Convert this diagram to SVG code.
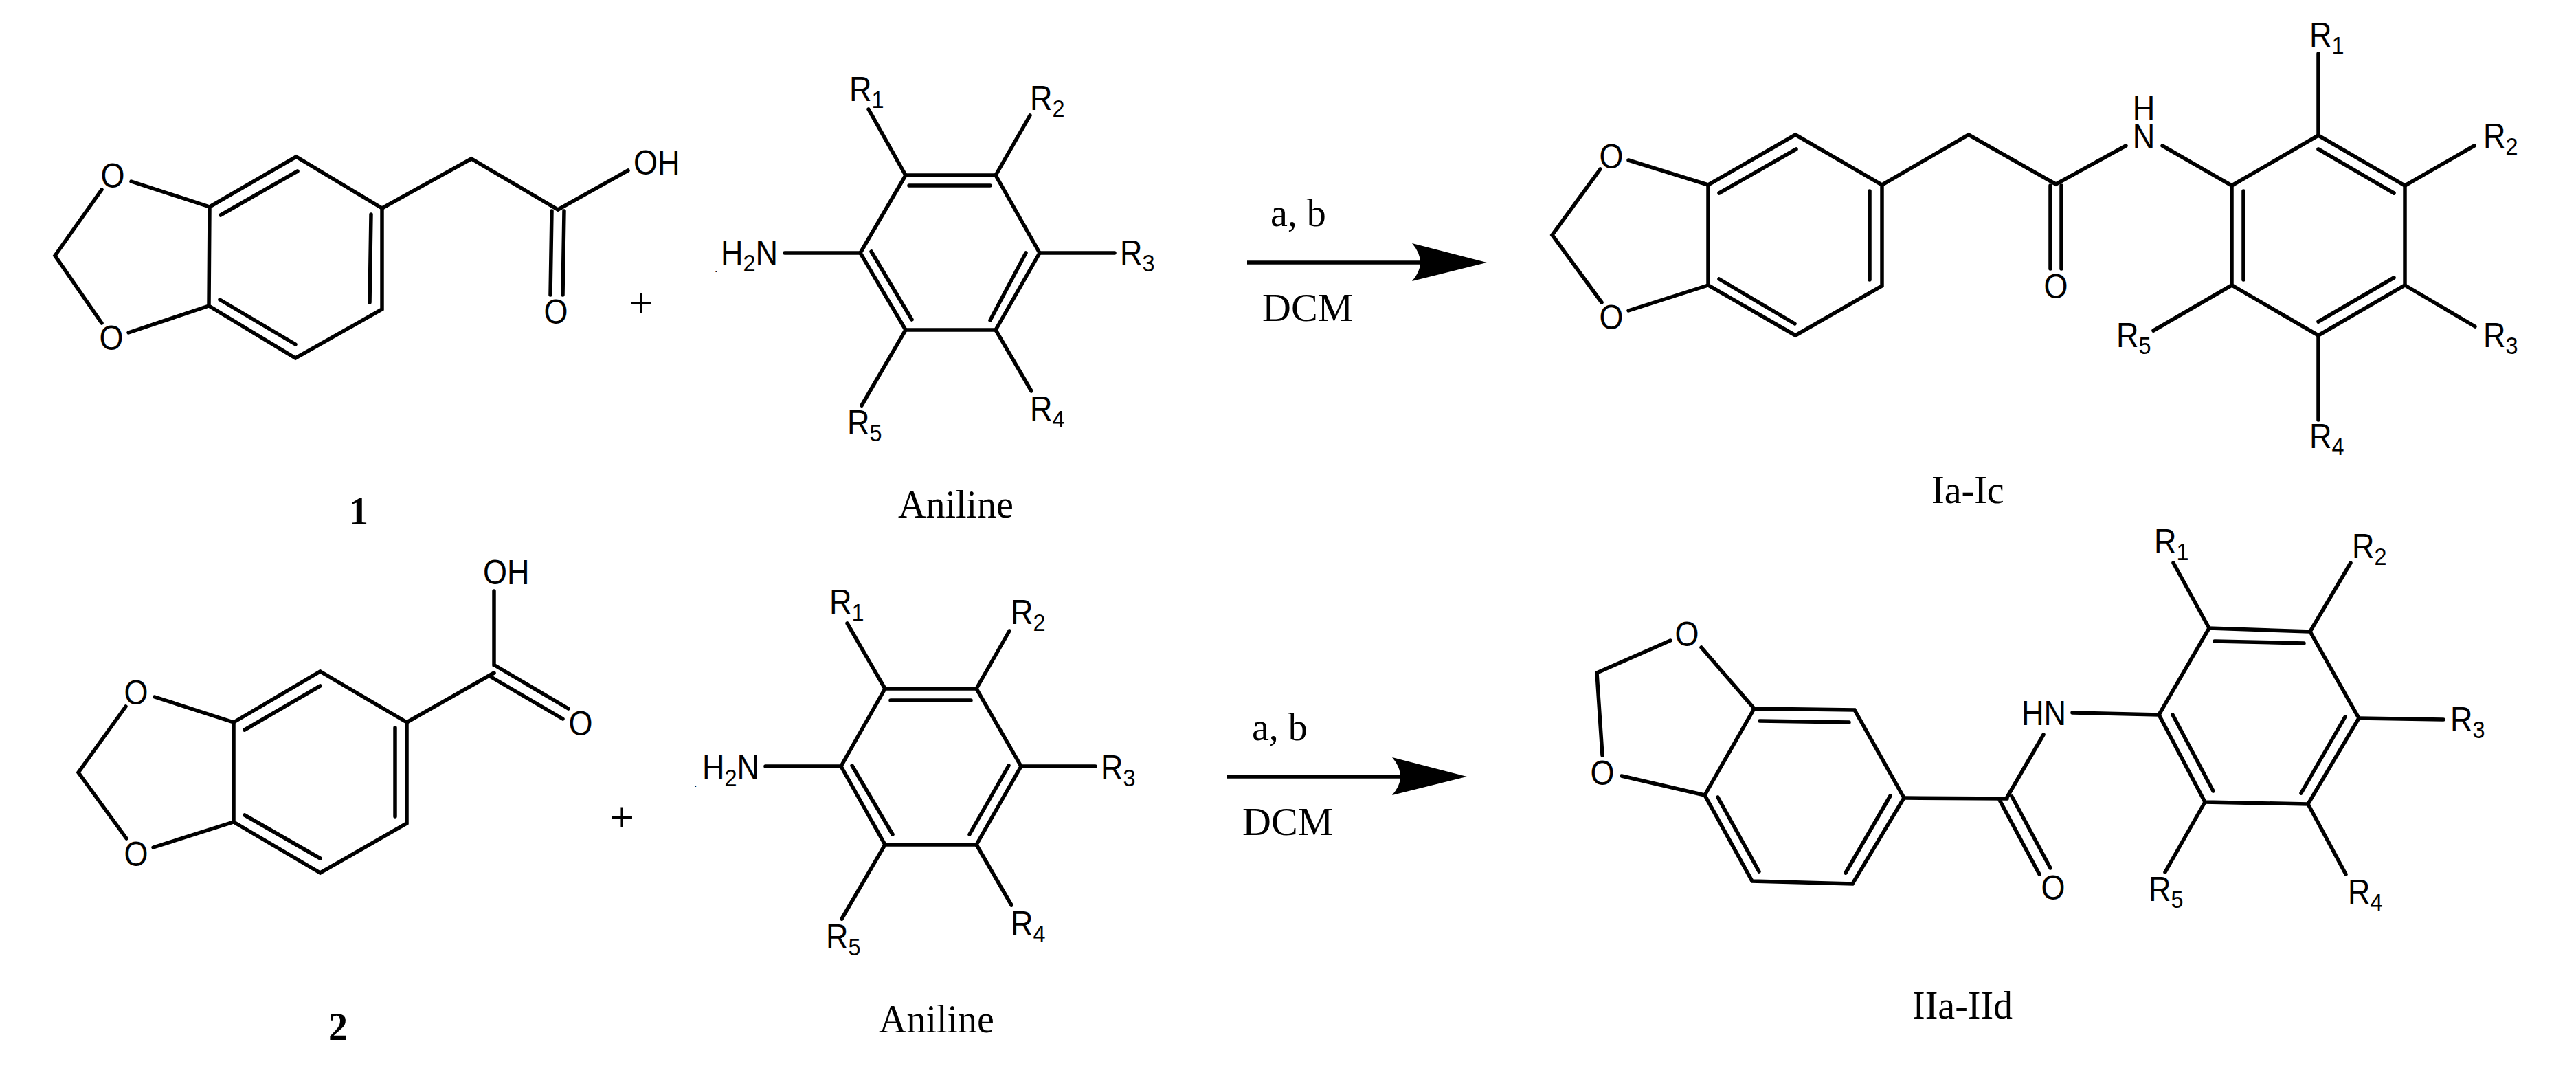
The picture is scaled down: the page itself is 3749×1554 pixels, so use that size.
<svg xmlns="http://www.w3.org/2000/svg" width="3749" height="1554" viewBox="0 0 3749 1554">
<style>
.l{fill:none;stroke:#000;stroke-width:5.5;stroke-linecap:round;stroke-linejoin:miter}
.s{font-family:"Liberation Sans",Arial,sans-serif;font-size:50px;fill:#000;transform-box:fill-box;transform-origin:0 0;transform:scaleX(.9)}
.s.m{transform-origin:50% 0}
.b{font-size:36px}
.t{font-family:"Liberation Serif","Times New Roman",serif;font-size:56px;fill:#000}
.c{font-size:58px}
.p{font-family:"Liberation Serif","Times New Roman",serif;font-size:64px;fill:#000;text-anchor:middle}
.m{text-anchor:middle}
.d{font-family:"Liberation Sans",Arial,sans-serif;font-size:16px;fill:#000}
.w{font-weight:bold}
.a{fill:none;stroke:#000;stroke-width:5.5}
</style>
<defs>
<path id="head" d="M0 0L-109 -28Q-85 0 -109 27Z" fill="#000"/>
</defs>
<rect width="3749" height="1554" fill="#fff"/>

<g id="acid-1">
<path class="l" d="M305 301L431 228L556 303L556 450L430 521L304 445Z"/>
<path class="l" d="M321 313L433 249M540 312L538 440M320 436L430 501"/>
<path class="l" d="M191 264L305 301M187 484L304 445M148 276L80 372L148 470"/>
<path class="l" d="M556 303L686 231L812 305L914 248M821 307L819 429M803 307L801 429"/>
<text class="s m" x="164" y="273">O</text>
<text class="s m" x="162" y="509">O</text>
<text class="s" x="922" y="254">OH</text>
<text class="s m" x="809" y="471">O</text>
<text class="t m w" x="522" y="763">1</text>
</g>
<text id="plus-1" class="p" x="933" y="463">+</text>
<g id="aniline-1">
<path class="l" d="M1318 255L1449 255L1513 368L1449 480L1318 480L1252 368Z"/>
<path class="l" d="M1323 270L1441 270M1268 366L1327 465M1493 368L1441 466"/>
<path class="l" d="M1142 368L1252 368M1318 255L1264 159M1449 255L1499 168M1513 368L1622 368M1449 480L1501 569M1318 480L1254 590"/>
<text class="d" x="1040" y="396">.</text>
<text class="s" x="1049" y="385">H<tspan class="b" dy="10">2</tspan><tspan dy="-10">N</tspan></text>
<text class="s" x="1236" y="147">R<tspan class="b" dy="10">1</tspan></text>
<text class="s" x="1499" y="160">R<tspan class="b" dy="10">2</tspan></text>
<text class="s" x="1630" y="385">R<tspan class="b" dy="10">3</tspan></text>
<text class="s" x="1499" y="612">R<tspan class="b" dy="10">4</tspan></text>
<text class="s" x="1233" y="632">R<tspan class="b" dy="10">5</tspan></text>
<text class="t" x="1307" y="753">Aniline</text>
</g>

<g id="product-I">
<path class="l" d="M2486 269L2613 196L2739 269L2739 416L2613 488L2486 415Z"/>
<path class="l" d="M2502 281L2614 217M2721 278L2721 407M2502 406L2612 471"/>
<path class="l" d="M2370 233L2486 269M2370 452L2486 415M2329 246L2259 342L2331 440"/>
<path class="l" d="M2739 269L2865 196L2992 268L3094 212M2984 270L2984 391M3000 270L3000 391M3147 212L3248 270"/>
<path class="l" d="M3248 270L3374 197L3500 270L3500 415L3374 488L3248 415Z"/>
<path class="l" d="M3374 217L3484 281M3265 278L3265 407M3484 404L3374 468"/>
<path class="l" d="M3374 197L3374 78M3500 270L3601 212M3500 415L3602 475M3374 488L3374 611M3248 415L3134 481"/>
<text class="s m" x="2345" y="245">O</text>
<text class="s m" x="2345" y="479">O</text>
<text class="s m" x="2992" y="434">O</text>
<text class="s m" x="3120" y="175">H</text>
<text class="s m" x="3120" y="216">N</text>
<text class="s" x="3361" y="68">R<tspan class="b" dy="10">1</tspan></text>
<text class="s" x="3614" y="215">R<tspan class="b" dy="10">2</tspan></text>
<text class="s" x="3614" y="505">R<tspan class="b" dy="10">3</tspan></text>
<text class="s" x="3361" y="652">R<tspan class="b" dy="10">4</tspan></text>
<text class="s" x="3080" y="505">R<tspan class="b" dy="10">5</tspan></text>
<text class="t" x="2811" y="732">Ia-Ic</text>
</g>

<g id="acid-2">
<path class="l" d="M340 1051L466 977L592 1051L592 1198L466 1270L340 1196Z"/>
<path class="l" d="M356 1062L466 998M575 1059L575 1188M356 1186L466 1249"/>
<path class="l" d="M225 1014L340 1051M223 1233L340 1196M183 1028L114 1124L184 1220"/>
<path class="l" d="M592 1051L719 979M719 860L719 968M720 968L827 1031M713 984L819 1046"/>
<text class="s m" x="198" y="1025">O</text>
<text class="s m" x="198" y="1260">O</text>
<text class="s" x="703" y="850">OH</text>
<text class="s m" x="845" y="1070">O</text>
<text class="t m w" x="492" y="1513">2</text>
</g>
<text id="plus-2" class="p" x="905" y="1211">+</text>
<g id="aniline-2">
<path class="l" d="M1288 1002L1421 1002L1486 1115L1421 1229L1288 1229L1224 1115Z"/>
<path class="l" d="M1296 1019L1413 1019M1240 1114L1299 1214M1468 1114L1411 1214"/>
<path class="l" d="M1114 1115L1224 1115M1288 1002L1233 907M1421 1002L1469 918M1486 1115L1594 1115M1421 1229L1472 1317M1288 1229L1225 1337"/>
<text class="d" x="1010" y="1145">.</text>
<text class="s" x="1022" y="1134">H<tspan class="b" dy="10">2</tspan><tspan dy="-10">N</tspan></text>
<text class="s" x="1207" y="893">R<tspan class="b" dy="10">1</tspan></text>
<text class="s" x="1471" y="908">R<tspan class="b" dy="10">2</tspan></text>
<text class="s" x="1602" y="1134">R<tspan class="b" dy="10">3</tspan></text>
<text class="s" x="1471" y="1361">R<tspan class="b" dy="10">4</tspan></text>
<text class="s" x="1202" y="1380">R<tspan class="b" dy="10">5</tspan></text>
<text class="t" x="1279" y="1502">Aniline</text>
</g>

<g id="product-II">
<path class="l" d="M2553 1031L2699 1033L2771 1161L2696 1286L2550 1282L2481 1157Z"/>
<path class="l" d="M2561 1049L2691 1051M2751 1158L2686 1270M2500 1160L2560 1268"/>
<path class="l" d="M2431 932L2324 979L2332 1099M2360 1129L2481 1157M2476 942L2553 1031"/>
<path class="l" d="M2771 1161L2921 1162M2928 1159L2984 1263M2910 1164L2968 1272M2921 1160L2974 1069M3016 1037L3142 1040"/>
<path class="l" d="M3142 1040L3215 914L3362 919L3433 1045L3359 1170L3209 1167Z"/>
<path class="l" d="M3223 933L3353 936M3162 1040L3221 1151M3413 1043L3349 1154"/>
<path class="l" d="M3215 914L3163 819M3362 919L3421 819M3433 1045L3556 1047M3359 1170L3414 1272M3209 1167L3151 1269"/>
<text class="s m" x="2455" y="940">O</text>
<text class="s m" x="2332" y="1142">O</text>
<text class="s m" x="2988" y="1309">O</text>
<text class="s" x="2942" y="1055">HN</text>
<text class="s" x="3135" y="805">R<tspan class="b" dy="10">1</tspan></text>
<text class="s" x="3423" y="812">R<tspan class="b" dy="10">2</tspan></text>
<text class="s" x="3566" y="1064">R<tspan class="b" dy="10">3</tspan></text>
<text class="s" x="3417" y="1315">R<tspan class="b" dy="10">4</tspan></text>
<text class="s" x="3127" y="1311">R<tspan class="b" dy="10">5</tspan></text>
<text class="t" x="2783" y="1482">IIa-IId</text>
</g>

<g id="connectors">
<path class="a" d="M1815 382L2080 382"/>
<use href="#head" x="2164" y="382"/>
<path class="a" d="M1786 1130L2050 1130"/>
<use href="#head" x="2135" y="1130"/>
</g>
<g id="conditions">
<text class="t" x="1849" y="329">a, b</text>
<text class="t c" x="1837" y="467">DCM</text>
<text class="t" x="1822" y="1077">a, b</text>
<text class="t c" x="1808" y="1215">DCM</text>
</g>
</svg>
